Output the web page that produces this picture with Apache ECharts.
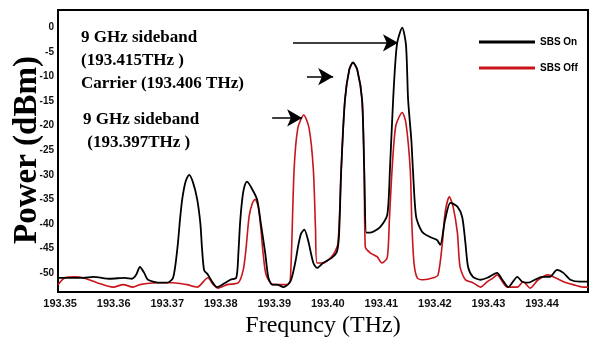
<!DOCTYPE html>
<html>
<head>
<meta charset="utf-8">
<script src="https://cdn.jsdelivr.net/npm/echarts@6/dist/echarts.min.js"></script>
<style>
  html, body { margin: 0; padding: 0; background: #fff; }
  #chart { width: 590px; height: 337px; }
</style>
</head>
<body>
<div id="chart"></div>
<script>
// frequency (THz), power (dBm)
const sbsOnFreq = [193.3496,193.3519,193.3543,193.3562,193.3593,193.3621,193.3634,193.3642,193.3649,193.3657,193.3664,193.3687,193.3700,193.3711,193.3719,193.3724,193.3728,193.3734,193.3741,193.3748,193.3756,193.3762,193.3765,193.3769,193.3775,193.3784,193.3793,193.3803,193.3818,193.3829,193.3833,193.3836,193.3840,193.3844,193.3849,193.3859,193.3868,193.3875,193.3883,193.3889,193.3896,193.3905,193.3917,193.3930,193.3939,193.3945,193.3950,193.3956,193.3963,193.3973,193.3980,193.3991,193.4008,193.4017,193.4021,193.4025,193.4032,193.4040,193.4047,193.4055,193.4064,193.4068,193.4072,193.4079,193.4098,193.4111,193.4116,193.4122,193.4129,193.4139,193.4146,193.4150,193.4156,193.4159,193.4165,193.4176,193.4191,193.4204,193.4210,193.4219,193.4229,193.4242,193.4251,193.4257,193.4262,193.4271,193.4285,193.4298,193.4316,193.4326,193.4337,193.4354,193.4363,193.4374,193.4387,193.4400,193.4415,193.4428,193.4440,193.4453,193.4471,193.4486];
const sbsOnPower = [-51.0,-51.0,-51.0,-50.8,-51.2,-51.0,-51.2,-50.4,-48.8,-50.0,-51.4,-52.0,-52.0,-51.0,-45.0,-39.0,-35.0,-31.5,-30.0,-31.5,-35.0,-40.0,-45.0,-49.5,-50.2,-51.8,-52.9,-52.4,-51.4,-51.0,-45.9,-40.0,-35.1,-32.5,-31.4,-33.0,-35.1,-40.0,-45.9,-51.0,-52.4,-52.4,-52.9,-51.8,-48.0,-44.3,-42.0,-41.2,-43.3,-48.0,-49.0,-48.0,-46.9,-45.7,-42.2,-29.0,-14.7,-8.6,-7.1,-8.6,-14.7,-29.0,-41.8,-41.8,-40.6,-38.2,-29.0,-14.7,-3.5,0.0,-3.5,-14.7,-22.9,-29.0,-38.6,-41.6,-42.7,-43.3,-44.3,-39.2,-35.7,-36.5,-38.6,-43.9,-48.8,-50.8,-51.4,-51.0,-50.0,-51.4,-52.9,-50.8,-51.8,-52.0,-51.4,-50.8,-50.8,-49.4,-50.0,-51.4,-51.8,-51.8];

const sbsOffFreq = [193.3496,193.3509,193.3528,193.3543,193.3569,193.3599,193.3618,193.3636,193.3649,193.3681,193.3711,193.3737,193.3756,193.3776,193.3786,193.3795,193.3812,193.3833,193.3842,193.3847,193.3853,193.3859,193.3864,193.3870,193.3875,193.3879,193.3885,193.3898,193.3924,193.3930,193.3937,193.3944,193.3955,193.3965,193.3973,193.3977,193.3980,193.3991,193.4010,193.4019,193.4025,193.4032,193.4040,193.4047,193.4055,193.4064,193.4068,193.4070,193.4079,193.4092,193.4101,193.4111,193.4115,193.4120,193.4127,193.4139,193.4146,193.4154,193.4157,193.4161,193.4167,193.4178,193.4197,193.4206,193.4214,193.4219,193.4227,193.4234,193.4242,193.4247,193.4257,193.4271,193.4285,193.4298,193.4309,193.4316,193.4335,193.4354,193.4365,193.4378,193.4393,193.4412,193.4425,193.4440,193.4458,193.4477,193.4486];
const sbsOffPower = [-52.4,-51.0,-50.8,-51.0,-52.0,-52.9,-52.4,-52.9,-52.4,-52.0,-52.0,-52.4,-52.9,-51.0,-52.4,-53.1,-52.4,-52.0,-49.4,-45.3,-38.5,-35.8,-35.0,-36.5,-41.0,-45.9,-50.5,-52.4,-52.4,-51.4,-29.0,-20.5,-17.8,-20.5,-29.0,-41.0,-48.0,-48.0,-46.3,-43.9,-29.0,-14.7,-8.6,-7.1,-8.6,-14.7,-29.0,-44.7,-45.9,-46.7,-48.0,-46.9,-39.2,-29.0,-20.0,-17.3,-19.5,-29.0,-40.0,-48.0,-51.0,-51.4,-51.0,-50.4,-43.9,-37.8,-34.5,-36.5,-41.8,-48.8,-51.4,-52.0,-52.9,-51.8,-51.0,-50.4,-52.9,-52.9,-51.8,-53.1,-51.4,-50.4,-51.0,-51.8,-52.4,-52.9,-52.9];

const xTicks = [193.35, 193.36, 193.37, 193.38, 193.39, 193.40, 193.41, 193.42, 193.43, 193.44];
const yTicks = [0, -5, -10, -15, -20, -25, -30, -35, -40, -45, -50];

// arrows: [fromFreq, toFreq, power]
const arrows = [
  [193.3935, 193.4131, -3.1],
  [193.3961, 193.4010, -10.0],
  [193.3896, 193.3952, -18.4]
];

const zip = (xs, ys) => xs.map((x, i) => [x, ys[i]]);

const chart = echarts.init(document.getElementById("chart"));

const serif = "'Liberation Serif', 'Times New Roman', serif";
const sans = "'Liberation Sans', Arial, sans-serif";

const option = {
  animation: false,
  grid: {
    left: 58, right: 2, top: 10, bottom: 45,
    outerBoundsMode: "none",
    containLabel: false,
    show: true, borderColor: "#000", borderWidth: 2
  },
  legend: {
    data: ["SBS On", "SBS Off"],
    orient: "vertical",
    left: 474, top: 32,
    icon: "rect",
    itemWidth: 56, itemHeight: 3, itemGap: 16,
    textStyle: { fontFamily: sans, fontWeight: "bold", fontSize: 10, color: "#000" }
  },
  xAxis: {
    type: "value",
    min: 193.3496, max: 193.4486,
    name: "Frequncy (THz)",
    nameLocation: "middle",
    nameGap: 21,
    nameTextStyle: { fontFamily: serif, fontSize: 24, color: "#000" },
    axisLine: { onZero: false, lineStyle: { color: "#000", width: 2 } },
    axisTick: { show: false },
    splitLine: { show: false },
    axisLabel: {
      customValues: xTicks,
      formatter: (v) => v.toFixed(2),
      fontFamily: sans, fontWeight: "bold", fontSize: 11, color: "#111", margin: 6
    }
  },
  yAxis: {
    type: "value",
    min: -53.9, max: 3.6,
    axisLine: { show: true, onZero: false, lineStyle: { color: "#000", width: 2 } },
    axisTick: { show: false },
    splitLine: { show: false },
    axisLabel: {
      customValues: yTicks,
      fontFamily: sans, fontWeight: "bold", fontSize: 10, color: "#111", margin: 4
    }
  },
  graphic: [
    // y axis title, drawn as rotated text
    { type: "text", x: 27, y: 150, rotation: Math.PI / 2,
      style: { text: "Power (dBm)", font: "bold 33px " + serif, fill: "#000", align: "center", verticalAlign: "middle" } },
    { type: "text", left: 81, top: 26, style: { text: "9 GHz sideband\n(193.415THz )", font: "bold 17px " + serif, lineHeight: 23, fill: "#000" } },
    { type: "text", left: 81, top: 75, style: { text: "Carrier (193.406 THz)", font: "bold 17px " + serif, fill: "#000" } },
    { type: "text", left: 83, top: 108, style: { text: "9 GHz sideband\n (193.397THz )", font: "bold 17px " + serif, lineHeight: 23, fill: "#000" } }
  ],
  series: [
    {
      name: "SBS Off",
      type: "line",
      data: zip(sbsOffFreq, sbsOffPower),
      symbol: "none",
      smooth: 0.25,
      lineStyle: { color: "#c8141a", width: 1.6 },
      itemStyle: { color: "#c8141a" }
    },
    {
      name: "SBS On",
      type: "line",
      data: zip(sbsOnFreq, sbsOnPower),
      symbol: "none",
      smooth: 0.25,
      lineStyle: { color: "#000", width: 1.8 },
      itemStyle: { color: "#000" },
      markLine: {
        silent: true,
        symbol: ["none", "arrow"],
        symbolSize: [13, 15],
        label: { show: false },
        lineStyle: { color: "#000", width: 1.5, type: "solid" },
        data: arrows.map((a) => [{ coord: [a[0], a[2]] }, { coord: [a[1], a[2]] }])
      }
    }
  ]
};

chart.setOption(option);
</script>
</body>
</html>
